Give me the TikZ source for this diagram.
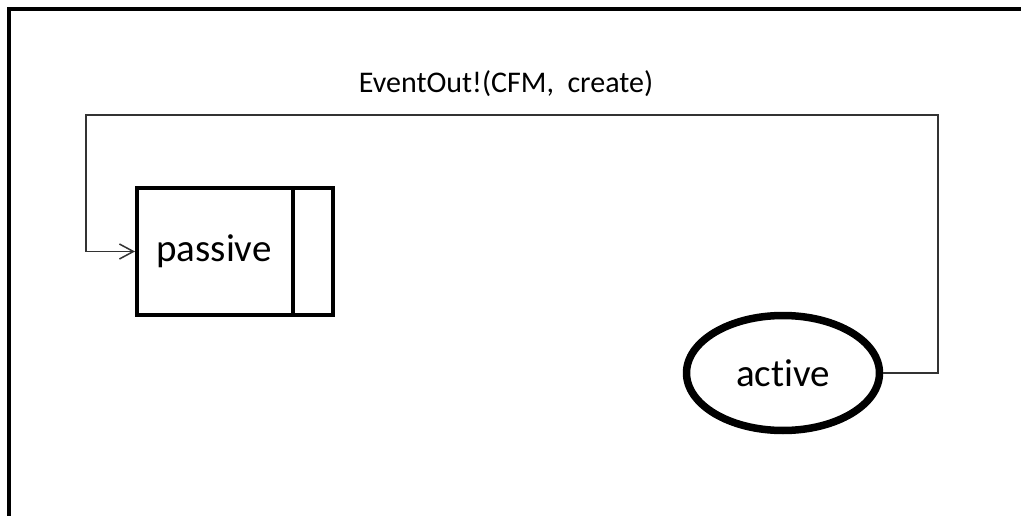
\documentclass[tikz,border=0pt]{standalone}
\usepackage{fontspec}
\setmainfont{Carlito}[Ligatures={NoCommon}]
\usetikzlibrary{arrows.meta,shapes.geometric,shapes.multipart}
\begin{document}
\begin{tikzpicture}[x=1pt, y=-1pt,
    state/.style={draw, line width=4pt, font=\fontsize{39}{47}\selectfont},
    conn/.style={line width=1.5pt, draw=black!80},
    lbl/.style={font=\fontsize{30}{36}\selectfont}]
    \useasboundingbox (0,0) rectangle (1021,516);
    % frame (cut off at the right and at the bottom)
    \draw[line width=4pt] (9,530) -- (9,9) -- (1030,9);
    % states
    \node[state, rectangle split, rectangle split horizontal, rectangle split parts=2,
          inner xsep=0pt, inner ysep=0pt, minimum height=127pt, anchor=west]
          (passive) at (135,251.5) {\makebox[154pt]{passive}\nodepart{two}\makebox[38pt]{}};
    \node[state, ellipse, line width=7.5pt, minimum width=193pt, minimum height=115pt, inner sep=0pt]
          (active) at (783,373) {active};
    % event connector
    \coordinate (tr) at (938,115);
    \coordinate (tl) at (86,115);
    \draw[conn, -{Straight Barb[length=14pt, width=15pt]}] (active.east) -| (tr) -| (tl) |- (passive.west);
    \node[lbl, anchor=base] (event) at (506,93) {EventOut!(CFM,\ \ create)};
\end{tikzpicture}
\end{document}
